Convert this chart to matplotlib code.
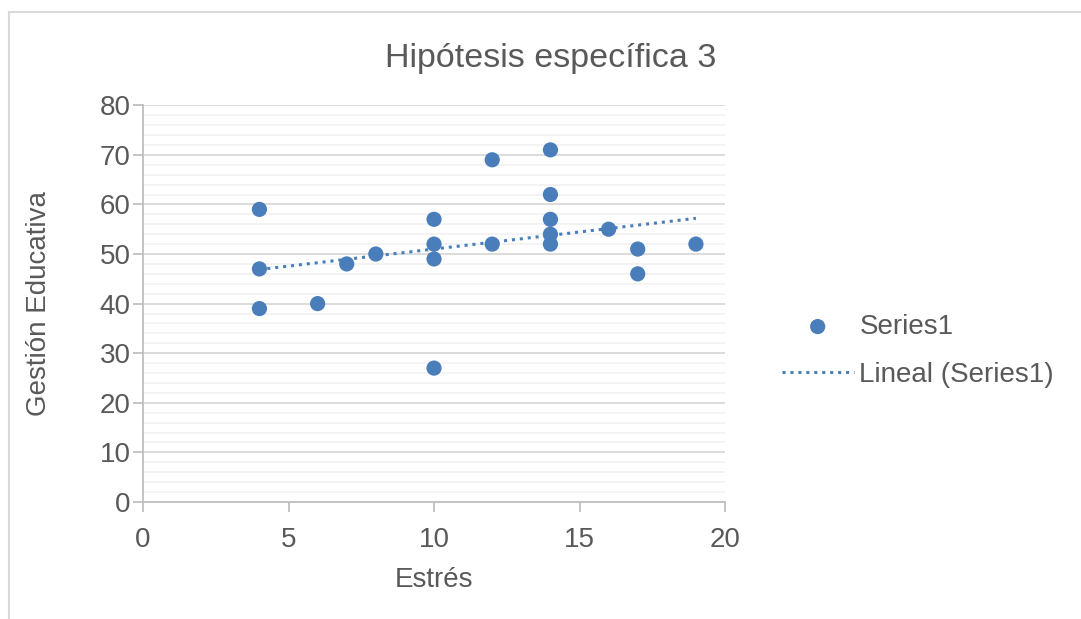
import matplotlib.pyplot as plt
import matplotlib.lines as mlines
import numpy as np

plt.rcParams['font.family'] = ['Liberation Sans', 'DejaVu Sans']

# Datos
estres = [4, 4, 4, 6, 7, 8, 10, 10, 10, 10, 12, 12, 14, 14, 14, 14, 14, 16, 17, 17, 19]
gestion = [59, 47, 39, 40, 48, 50, 57, 52, 49, 27, 69, 52, 71, 62, 57, 54, 52, 55, 51, 46, 52]

azul = "#4A7EBB"
gris_texto = "#595959"
gris_eje = "#BFBFBF"

fig = plt.figure(figsize=(10.81, 6.19), dpi=100)
ax = fig.add_axes([0.1323, 0.189, 0.5384, 0.641])

# Borde del gráfico (solo arriba e izquierda visibles)
x0, y0 = 9 / 1081, 1 - 12 / 619
fig.lines.append(mlines.Line2D([x0, 1], [y0, y0], transform=fig.transFigure,
                               color="#D9D9D9", linewidth=1.5))
fig.lines.append(mlines.Line2D([x0, x0], [0, y0], transform=fig.transFigure,
                               color="#D9D9D9", linewidth=1.5))

ax.scatter(estres, gestion, s=120, color=azul, zorder=3, label="Series1", edgecolors="none")

# Línea de tendencia lineal
m, b = np.polyfit(estres, gestion, 1)
xs = np.array([min(estres), max(estres)])
ax.plot(xs, m * xs + b, linestyle=(0, (1, 1.6)), color=azul, linewidth=2.2,
        zorder=2, label="Lineal (Series1)")

ax.set_xlim(0, 20)
ax.set_ylim(0, 80)
ax.set_xticks([0, 5, 10, 15, 20])
ax.set_yticks(range(0, 81, 10))
ax.set_yticks(range(0, 81, 2), minor=True)
ax.grid(axis="y", which="major", color="#D9D9D9", linewidth=1.3)
ax.grid(axis="y", which="minor", color="#F2F2F2", linewidth=1.3)
ax.set_axisbelow(True)

for s in ["top", "right"]:
    ax.spines[s].set_visible(False)
for s in ["left", "bottom"]:
    ax.spines[s].set_color(gris_eje)
    ax.spines[s].set_linewidth(1.3)
ax.tick_params(axis="both", which="major", colors=gris_eje, length=7, width=1.3,
               labelcolor=gris_texto, labelsize=20)
ax.tick_params(axis="y", which="minor", length=0)
ax.tick_params(axis="x", pad=11)
ax.tick_params(axis="y", pad=2)

ax.set_xlabel("Estrés", fontsize=20, color=gris_texto, labelpad=10)
ax.set_ylabel("Gestión Educativa", fontsize=20, color=gris_texto, labelpad=34)
fig.text(0.509, 0.906, "Hipótesis específica 3", fontsize=24.5, color=gris_texto,
         ha="center", va="center")

leg = fig.legend(loc="center left", bbox_to_anchor=(0.723, 0.433), frameon=False,
                 fontsize=20, handlelength=2.6, labelspacing=0.8, handletextpad=0.2,
                 borderpad=0, borderaxespad=0)
for t in leg.get_texts():
    t.set_color(gris_texto)

fig.savefig("out.png", dpi=100)
